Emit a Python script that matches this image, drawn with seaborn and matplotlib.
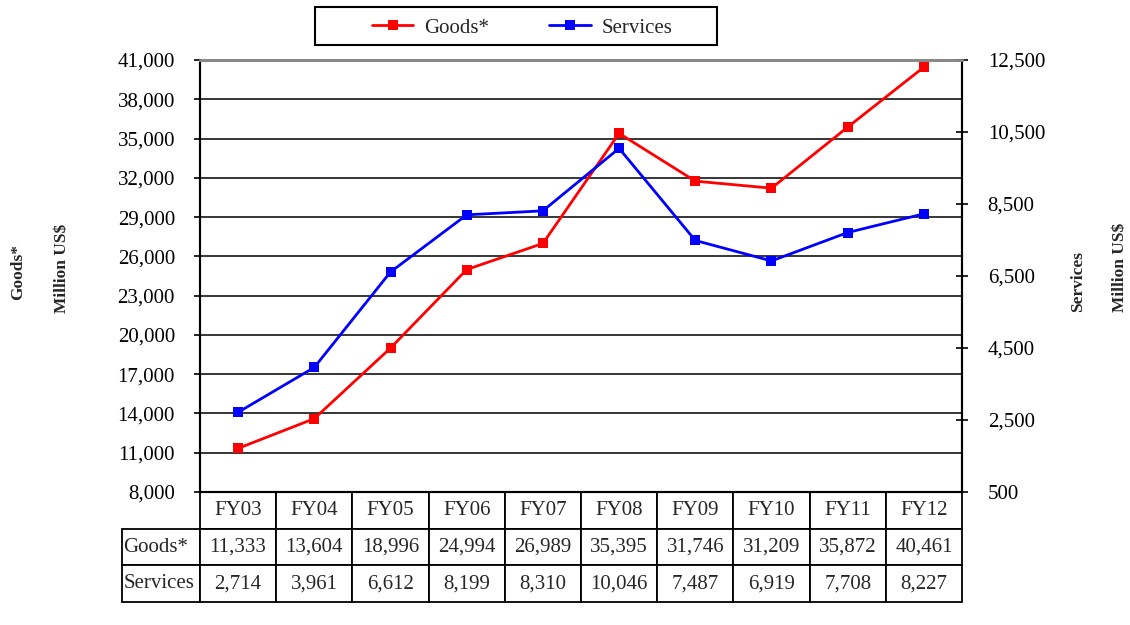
import matplotlib
matplotlib.use("Agg")
import matplotlib.pyplot as plt
from matplotlib.patches import Rectangle
import seaborn as sns
import pandas as pd
import numpy as np

years = ["FY03", "FY04", "FY05", "FY06", "FY07", "FY08", "FY09", "FY10", "FY11", "FY12"]
goods = [11333, 13604, 18996, 24994, 26989, 35395, 31746, 31209, 35872, 40461]
services = [2714, 3961, 6612, 8199, 8310, 10046, 7487, 6919, 7708, 8227]
left_ticks = list(range(8000, 41001, 3000))
right_ticks = list(range(500, 12501, 2000))

sns.set_style("white")
plt.rcParams['font.family'] = ['Liberation Serif', 'DejaVu Serif']
FS = 15

df = pd.DataFrame({"x": np.arange(len(years)), "year": years,
                   "Goods*": goods, "Services": services})

fig = plt.figure(figsize=(11.3, 6.25), dpi=100)
ax = fig.add_axes([200/1130, 1-492/625, 762/1130, 432/625])
ax2 = ax.twinx()

sns.lineplot(data=df, x="x", y="Goods*", ax=ax, color="#ff0000", marker="s",
             markersize=7, markeredgewidth=0, linewidth=2, label="Goods*", legend=False)
sns.lineplot(data=df, x="x", y="Services", ax=ax2, color="#0000ff", marker="s",
             markersize=7, markeredgewidth=0, linewidth=2, label="Services", legend=False)

ax.set_xlim(-0.5, len(years) - 0.5)
ax.set_ylim(8000, 41000)
ax2.set_ylim(500, 12500)
ax.set_yticks(left_ticks)
ax2.set_yticks(right_ticks)
ax.set_yticklabels([f"{v:,}" for v in left_ticks], fontsize=FS)
ax2.set_yticklabels([f"{v:,}" for v in right_ticks], fontsize=FS)
ax.set_xticks([])
ax.set_xlabel("")
ax.set_ylabel("")
ax2.set_ylabel("")
ax.grid(axis="y", color="black", linewidth=1.1)
ax.set_axisbelow(True)
ax.tick_params(axis="y", direction="out", length=4, width=1.2, pad=14, colors="black", left=True)
ax2.tick_params(axis="y", direction="inout", length=9, width=1.2, pad=14, colors="black", right=True)
for a in (ax, ax2):
    a.spines["top"].set_color("#888888")
    a.spines["top"].set_linewidth(2)
    for s in ("left", "right", "bottom"):
        a.spines[s].set_color("black")
        a.spines[s].set_linewidth(1.5)

# data table
cell_text = [["Goods*"] + [f"{v:,}" for v in goods],
             ["Services"] + [f"{v:,}" for v in services]]
col_labels = [""] + years
total_w = 962 - 122
col_w = [78/total_w] + [76.2/total_w]*len(years)
tbl = ax.table(cellText=cell_text, colLabels=col_labels, colWidths=col_w,
               cellLoc="center",
               bbox=[(122-200)/762, -110/432, total_w/762, 110/432])
tbl.auto_set_font_size(False)
tbl.set_fontsize(FS)
for (r, c), cell in tbl.get_celld().items():
    cell.set_linewidth(1.3)
    cell.set_edgecolor("black")
    cell.PAD = 0.02
    if r == 0 and c == 0:
        cell.set_linewidth(0)
        cell.visible_edges = ""
    if c == 0 and r > 0:
        cell._loc = "left"
        cell.get_text().set_ha("left")

# legend
handles = [ax.get_lines()[0], ax2.get_lines()[0]]
leg = fig.legend(handles, ["Goods*", "Services"], loc="center",
                 bbox_to_anchor=(522/1130, 1-28/625), ncol=2, frameon=False,
                 fontsize=FS, handlelength=2.0, handletextpad=0.5, columnspacing=2.9,
                 markerscale=1.1)
fig.patches.append(Rectangle((315/1130, 1-45/625), 402/1130, 38/625,
                             transform=fig.transFigure, fill=False,
                             edgecolor="black", linewidth=1.5))

# axis titles
lab_kw = dict(rotation=90, fontsize=12.5, fontweight="bold", va="center", ha="center")
fig.text(18/1130, 1-272/625, "Goods*", **lab_kw)
fig.text(62/1130, 1-268/625, "Million US$", **lab_kw)
fig.text(1078/1130, 1-281/625, "Services", **lab_kw)
fig.text(1120/1130, 1-267/625, "Million US$", **lab_kw)

fig.savefig("out.png", dpi=100)
